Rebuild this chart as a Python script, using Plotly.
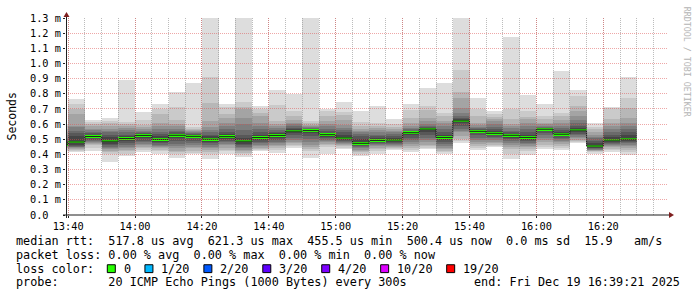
import plotly.graph_objects as go
import pandas as pd

# ---------------- data ----------------
day = "2025-12-19"
range_start = "13:39:21"
range_end = "16:39:21"
step_minutes = 5

bar_start = ["13:35", "13:40", "13:45", "13:50", "13:55", "14:00", "14:05", "14:10",
             "14:15", "14:20", "14:25", "14:30", "14:35", "14:40", "14:45", "14:50",
             "14:55", "15:00", "15:05", "15:10", "15:15", "15:20", "15:25", "15:30",
             "15:35", "15:40", "15:45", "15:50", "15:55", "16:00", "16:05", "16:10",
             "16:15", "16:20", "16:25"]

# median rtt per 5-minute step (ms)
median_ms = [0.466, 0.482, 0.518, 0.487, 0.505, 0.525, 0.499, 0.526,
             0.519, 0.500, 0.517, 0.487, 0.511, 0.525, 0.553, 0.557,
             0.530, 0.509, 0.473, 0.492, 0.495, 0.543, 0.567, 0.512,
             0.621, 0.552, 0.539, 0.526, 0.512, 0.566, 0.533, 0.560,
             0.4555, 0.494, 0.5004]

# 20 sorted ping rtts per step (ms)
b1335 = [0.425, 0.432, 0.44, 0.445, 0.45, 0.453, 0.456, 0.459, 0.462, 0.464, 0.47, 0.48, 0.49, 0.50, 0.51, 0.53, 0.55, 0.57, 0.59, 0.60]
b1340 = [0.415, 0.425, 0.43, 0.437, 0.442, 0.447, 0.452, 0.458, 0.465, 0.475, 0.49, 0.52, 0.54, 0.557, 0.578, 0.59, 0.665, 0.702, 0.735, 0.767]
b1345 = [0.422, 0.445, 0.46, 0.47, 0.478, 0.485, 0.49, 0.497, 0.505, 0.515, 0.522, 0.53, 0.54, 0.55, 0.56, 0.57, 0.585, 0.60, 0.615, 0.627]
b1350 = [0.35, 0.404, 0.415, 0.425, 0.435, 0.445, 0.452, 0.46, 0.47, 0.482, 0.495, 0.515, 0.53, 0.545, 0.557, 0.57, 0.585, 0.604, 0.62, 0.642]
b1355 = [0.392, 0.405, 0.42, 0.43, 0.44, 0.45, 0.46, 0.475, 0.49, 0.50, 0.51, 0.52, 0.53, 0.545, 0.56, 0.575, 0.59, 0.60, 0.617, 0.888]
b1400 = [0.415, 0.43, 0.44, 0.45, 0.46, 0.47, 0.48, 0.49, 0.505, 0.52, 0.528, 0.533, 0.54, 0.55, 0.557, 0.565, 0.578, 0.596, 0.626, 0.683]
b1405 = [0.403, 0.42, 0.43, 0.44, 0.45, 0.458, 0.465, 0.475, 0.485, 0.495, 0.505, 0.52, 0.535, 0.55, 0.57, 0.59, 0.61, 0.665, 0.70, 0.733]
b1410 = [0.377, 0.40, 0.414, 0.425, 0.44, 0.455, 0.47, 0.49, 0.51, 0.522, 0.53, 0.536, 0.545, 0.556, 0.57, 0.585, 0.60, 0.63, 0.712, 0.81]
b1415 = [0.40, 0.412, 0.425, 0.44, 0.45, 0.46, 0.475, 0.49, 0.505, 0.515, 0.522, 0.527, 0.532, 0.538, 0.545, 0.553, 0.56, 0.57, 0.582, 0.868]
b1420 = [0.367, 0.40, 0.415, 0.43, 0.44, 0.45, 0.46, 0.475, 0.485, 0.495, 0.505, 0.52, 0.53, 0.545, 0.56, 0.578, 0.62, 0.74, 0.913, 1.45]
b1425 = [0.403, 0.42, 0.43, 0.445, 0.46, 0.47, 0.48, 0.49, 0.50, 0.512, 0.522, 0.535, 0.548, 0.565, 0.585, 0.604, 0.643, 0.665, 0.71, 0.733]
b1430 = [0.385, 0.40, 0.41, 0.42, 0.43, 0.44, 0.45, 0.46, 0.47, 0.482, 0.495, 0.51, 0.53, 0.56, 0.60, 0.643, 0.70, 0.715, 0.745, 1.45]
b1435 = [0.42, 0.43, 0.437, 0.445, 0.455, 0.465, 0.475, 0.485, 0.495, 0.505, 0.515, 0.53, 0.55, 0.57, 0.59, 0.61, 0.654, 0.676, 0.698, 0.72]
b1440 = [0.408, 0.43, 0.445, 0.455, 0.465, 0.475, 0.485, 0.498, 0.51, 0.522, 0.53, 0.538, 0.548, 0.56, 0.572, 0.585, 0.60, 0.622, 0.726, 0.824]
b1445 = [0.445, 0.455, 0.465, 0.475, 0.485, 0.495, 0.51, 0.525, 0.54, 0.55, 0.557, 0.565, 0.575, 0.59, 0.60, 0.61, 0.625, 0.654, 0.686, 0.80]
b1450 = [0.377, 0.42, 0.435, 0.45, 0.465, 0.48, 0.50, 0.52, 0.54, 0.553, 0.558, 0.562, 0.567, 0.572, 0.578, 0.585, 0.595, 0.605, 0.62, 1.45]
b1455 = [0.404, 0.45, 0.46, 0.47, 0.48, 0.488, 0.495, 0.505, 0.517, 0.527, 0.535, 0.543, 0.555, 0.57, 0.585, 0.60, 0.622, 0.654, 0.685, 0.697]
b1500 = [0.437, 0.445, 0.453, 0.46, 0.467, 0.473, 0.48, 0.487, 0.495, 0.505, 0.515, 0.53, 0.545, 0.56, 0.575, 0.596, 0.626, 0.661, 0.683, 0.747]
b1505 = [0.387, 0.405, 0.415, 0.425, 0.432, 0.44, 0.447, 0.453, 0.46, 0.467, 0.478, 0.50, 0.52, 0.535, 0.545, 0.557, 0.57, 0.59, 0.615, 0.685]
b1510 = [0.40, 0.425, 0.437, 0.445, 0.453, 0.46, 0.468, 0.475, 0.482, 0.49, 0.497, 0.507, 0.52, 0.53, 0.545, 0.56, 0.575, 0.59, 0.605, 0.717]
b1515 = [0.428, 0.437, 0.443, 0.45, 0.457, 0.463, 0.47, 0.476, 0.483, 0.49, 0.50, 0.51, 0.522, 0.535, 0.545, 0.555, 0.565, 0.578, 0.60, 0.634]
b1520 = [0.414, 0.43, 0.443, 0.455, 0.468, 0.48, 0.495, 0.51, 0.525, 0.54, 0.548, 0.552, 0.557, 0.565, 0.575, 0.59, 0.61, 0.64, 0.69, 0.733]
b1525 = [0.435, 0.445, 0.455, 0.465, 0.48, 0.495, 0.51, 0.53, 0.55, 0.563, 0.57, 0.575, 0.58, 0.59, 0.60, 0.62, 0.64, 0.69, 0.717, 0.837]
b1530 = [0.40, 0.415, 0.425, 0.435, 0.445, 0.455, 0.468, 0.48, 0.495, 0.507, 0.517, 0.53, 0.55, 0.57, 0.59, 0.604, 0.62, 0.652, 0.675, 0.873]
b1535 = [0.478, 0.49, 0.50, 0.52, 0.545, 0.555, 0.57, 0.59, 0.61, 0.618, 0.625, 0.632, 0.64, 0.652, 0.675, 0.706, 0.77, 0.81, 0.955, 1.45]
b1540 = [0.43, 0.445, 0.455, 0.47, 0.485, 0.497, 0.51, 0.525, 0.54, 0.548, 0.555, 0.56, 0.565, 0.572, 0.58, 0.595, 0.61, 0.654, 0.697, 0.772]
b1545 = [0.45, 0.457, 0.465, 0.475, 0.485, 0.495, 0.505, 0.515, 0.525, 0.535, 0.543, 0.552, 0.565, 0.58, 0.60, 0.62, 0.633, 0.65, 0.665, 0.686]
b1550 = [0.372, 0.405, 0.437, 0.45, 0.463, 0.477, 0.49, 0.50, 0.51, 0.52, 0.528, 0.535, 0.545, 0.557, 0.575, 0.589, 0.60, 0.633, 0.697, 1.172]
b1555 = [0.393, 0.42, 0.435, 0.447, 0.457, 0.467, 0.477, 0.487, 0.497, 0.507, 0.517, 0.53, 0.546, 0.57, 0.589, 0.61, 0.633, 0.65, 0.687, 0.79]
b1600 = [0.435, 0.448, 0.465, 0.48, 0.495, 0.51, 0.525, 0.54, 0.555, 0.564, 0.57, 0.572, 0.577, 0.583, 0.59, 0.60, 0.61, 0.633, 0.655, 0.733]
b1605 = [0.432, 0.445, 0.458, 0.47, 0.48, 0.49, 0.50, 0.51, 0.52, 0.53, 0.537, 0.545, 0.56, 0.575, 0.59, 0.61, 0.63, 0.654, 0.676, 0.947]
b1610 = [0.472, 0.48, 0.487, 0.495, 0.505, 0.515, 0.525, 0.535, 0.545, 0.557, 0.565, 0.575, 0.59, 0.61, 0.63, 0.654, 0.687, 0.72, 0.785, 0.828]
b1615 = [0.405, 0.413, 0.42, 0.424, 0.428, 0.432, 0.436, 0.44, 0.445, 0.45, 0.465, 0.478, 0.49, 0.505, 0.517, 0.53, 0.546, 0.565, 0.58, 0.608]
b1620 = [0.414, 0.427, 0.437, 0.447, 0.455, 0.462, 0.47, 0.476, 0.483, 0.49, 0.50, 0.515, 0.53, 0.546, 0.565, 0.589, 0.61, 0.633, 0.705, 0.716]
b1625 = [0.395, 0.415, 0.43, 0.445, 0.455, 0.465, 0.475, 0.483, 0.49, 0.497, 0.507, 0.525, 0.545, 0.567, 0.59, 0.61, 0.643, 0.707, 0.772, 0.91]

pings = [b1335, b1340, b1345, b1350, b1355, b1400, b1405, b1410, b1415, b1420,
         b1425, b1430, b1435, b1440, b1445, b1450, b1455, b1500, b1505, b1510,
         b1515, b1520, b1525, b1530, b1535, b1540, b1545, b1550, b1555, b1600,
         b1605, b1610, b1615, b1620, b1625]

y_tick_vals = [0.0, 0.1, 0.2, 0.3, 0.4, 0.5, 0.6, 0.7, 0.8, 0.9, 1.0, 1.1, 1.2, 1.3]
y_tick_text = ["0.0\u00a0\u00a0", "0.1 m", "0.2 m", "0.3 m", "0.4 m", "0.5 m", "0.6 m",
               "0.7 m", "0.8 m", "0.9 m", "1.0 m", "1.1 m", "1.2 m", "1.3 m"]
x_tick_text = ["13:40", "14:00", "14:20", "14:40", "15:00", "15:20", "15:40", "16:00", "16:20"]

legend_median = "median rtt:  517.8 us avg  621.3 us max  455.5 us min  500.4 us now  0.0 ms sd  15.9   am/s"
legend_loss = "packet loss: 0.00 % avg  0.00 % max  0.00 % min  0.00 % now"
loss_labels = ["0", "1/20", "2/20", "3/20", "4/20", "10/20", "19/20"]
loss_colors = ["#26ff00", "#00b8ff", "#0059ff", "#5e00ff", "#7e00ff", "#dd00ff", "#ff0000"]
probe_text = "probe:       20 ICMP Echo Pings (1000 Bytes) every 300s"
end_text = "end: Fri Dec 19 16:39:21 2025"

# ---------------- geometry ----------------
W, H = 697, 297
L, R, T, B = 66, 668, 15, 215
PW, PH = R - L, B - T
MONO = "DejaVu Sans Mono, monospace"
CH = 7.1  # monospace char advance at legend size


def px(x):
    return (x - L) / PW


def py(y):
    return (B - y) / PH


def nb(s):
    return s.replace(" ", "\u00a0")


starts = pd.to_datetime([f"{day} {s}" for s in bar_start])
step = pd.Timedelta(minutes=step_minutes)
centers = starts + step / 2
width_ms = step_minutes * 60 * 1000
major_times = list(pd.to_datetime([f"{day} {t}" for t in x_tick_text]))
x_range = [f"{day} {range_start}", f"{day} {range_end}"]

fig = go.Figure()

# smoke: pair i spans ping[i] .. ping[n-1-i], lighter outside, darker inside
n = 20
half = n // 2
for i in range(half):
    g = int(190 / half * (half - (i + 1))) + 50
    col = f"rgb({g},{g},{g})"
    base = [row[i] for row in pings]
    top = [row[n - 1 - i] for row in pings]
    fig.add_trace(go.Bar(
        x=centers, y=[t - b for t, b in zip(top, base)], base=base,
        width=width_ms, marker=dict(color=col, line=dict(width=0)),
        showlegend=False, hoverinfo="skip"))

# thin dark median step line
step_x = list(starts) + [starts[-1] + step]
step_y = median_ms + [median_ms[-1]]
fig.add_trace(go.Scatter(x=step_x, y=step_y, mode="lines",
                         line=dict(color="#202020", width=1, shape="hv"),
                         showlegend=False, hoverinfo="skip"))

# loss-coloured median band (0 loss -> green)
band = 0.017
fig.add_trace(go.Bar(
    x=centers, y=[band] * len(median_ms), base=[m - band / 2 for m in median_ms],
    width=width_ms, marker=dict(color=loss_colors[0], line=dict(width=0)),
    showlegend=False, hoverinfo="skip"))

# ---------------- shapes: axes lines, arrows, legend boxes ----------------
shapes = []
axis_col = "#1f1f1f"
arrow_col = "#7f1f1f"
shapes.append(dict(type="line", xref="paper", yref="paper", x0=px(63), x1=px(670),
                   y0=py(215), y1=py(215), line=dict(color=axis_col, width=1), layer="above"))
shapes.append(dict(type="line", xref="paper", yref="paper", x0=px(66.5), x1=px(66.5),
                   y0=py(218), y1=py(12), line=dict(color=axis_col, width=1), layer="above"))
shapes.append(dict(type="path", xref="paper", yref="paper",
                   path=f"M {px(669)} {py(212)} L {px(674)} {py(215)} L {px(669)} {py(218)} Z",
                   fillcolor=arrow_col, line=dict(color=arrow_col, width=0), layer="above"))
shapes.append(dict(type="path", xref="paper", yref="paper",
                   path=f"M {px(63.5)} {py(14)} L {px(66.5)} {py(9)} L {px(69.5)} {py(14)} Z",
                   fillcolor=arrow_col, line=dict(color=arrow_col, width=0), layer="above"))

# ---------------- legend text ----------------
ann = []
legend_size = 11.8
x0 = 15
rows_y = [241.5, 255.5, 269.5, 283.5]


def text_at(x, y, s, anchor="left", size=legend_size, color="#000000"):
    ann.append(dict(xref="paper", yref="paper", x=px(x), y=py(y), text=nb(s),
                    showarrow=False, xanchor=anchor, yanchor="middle",
                    font=dict(family=MONO, size=size, color=color), borderpad=0))


text_at(x0, rows_y[0], legend_median)
text_at(x0, rows_y[1], legend_loss)
text_at(x0, rows_y[2], "loss color:")
col = 13.0
for lab, c in zip(loss_labels, loss_colors):
    sx = x0 + col * CH
    shapes.append(dict(type="rect", xref="paper", yref="paper",
                       x0=px(sx), x1=px(sx + 8), y0=py(rows_y[2] - 4), y1=py(rows_y[2] + 4),
                       fillcolor=c, line=dict(color="#000000", width=1), layer="above"))
    lcol = col + 2.15
    text_at(x0 + lcol * CH, rows_y[2], lab)
    col = lcol + len(lab) + 2.15
text_at(x0, rows_y[3], probe_text)
text_at(681, rows_y[3], end_text, anchor="right")

# axis title and watermark
ann.append(dict(xref="paper", yref="paper", x=px(11), y=py(115), text="Seconds",
                showarrow=False, textangle=-90, xanchor="center", yanchor="middle",
                font=dict(family=MONO, size=11.5, color="#000000")))
ann.append(dict(xref="paper", yref="paper", x=px(686.5), y=py(60), text=nb("RRDTOOL / TOBI OETIKER"),
                showarrow=False, textangle=90, xanchor="center", yanchor="middle",
                font=dict(family=MONO, size=8.3, color="#b4b4b4")))

major_red = "rgba(222,79,79,0.5)"
minor_gray = "rgba(143,143,143,0.6)"
dots = "1px,1px"

fig.update_layout(
    width=W, height=H, margin=dict(l=L, r=W - R, t=T, b=H - B),
    paper_bgcolor="#ffffff", plot_bgcolor="rgba(0,0,0,0)",
    barmode="overlay", bargap=0, showlegend=False,
    shapes=shapes, annotations=ann,
    # data subplot (labels, ticks, no grid)
    xaxis=dict(type="date", range=x_range, domain=[0, 1], anchor="y",
               tickvals=major_times, ticktext=x_tick_text,
               showgrid=False, zeroline=False, showline=False,
               ticks="outside", ticklen=2, tickcolor=axis_col,
               tickfont=dict(family=MONO, size=10.3, color="#000000"), fixedrange=True),
    yaxis=dict(range=[0, 1.3], domain=[0, 1], anchor="x",
               tickvals=y_tick_vals, ticktext=y_tick_text,
               showgrid=False, zeroline=False, showline=False,
               ticks="outside", ticklen=2, tickcolor=axis_col,
               tickfont=dict(family=MONO, size=10.3, color="#000000"), fixedrange=True),
    # grid subplot drawn on top of the data (rrdtool draws its grid over the areas)
    xaxis2=dict(type="date", range=x_range, domain=[0, 1], anchor="y2",
                tickvals=major_times, showticklabels=False, ticks="",
                showgrid=True, gridcolor=major_red, griddash=dots, gridwidth=1,
                minor=dict(tick0=f"{day} 13:40", dtick=step_minutes * 60 * 1000,
                           showgrid=True, gridcolor=minor_gray, griddash=dots, gridwidth=1, ticks=""),
                zeroline=False, showline=False, fixedrange=True),
    yaxis2=dict(range=[0, 1.3], domain=[0, 1], anchor="x2",
                tickvals=y_tick_vals[1:], showticklabels=False, ticks="",
                showgrid=True, gridcolor=major_red, griddash=dots, gridwidth=1,
                zeroline=False, showline=False, fixedrange=True),
)

# empty trace to instantiate the grid subplot
fig.add_trace(go.Scatter(x=[], y=[], xaxis="x2", yaxis="y2", showlegend=False, hoverinfo="skip"))

fig.write_html("out.html")
